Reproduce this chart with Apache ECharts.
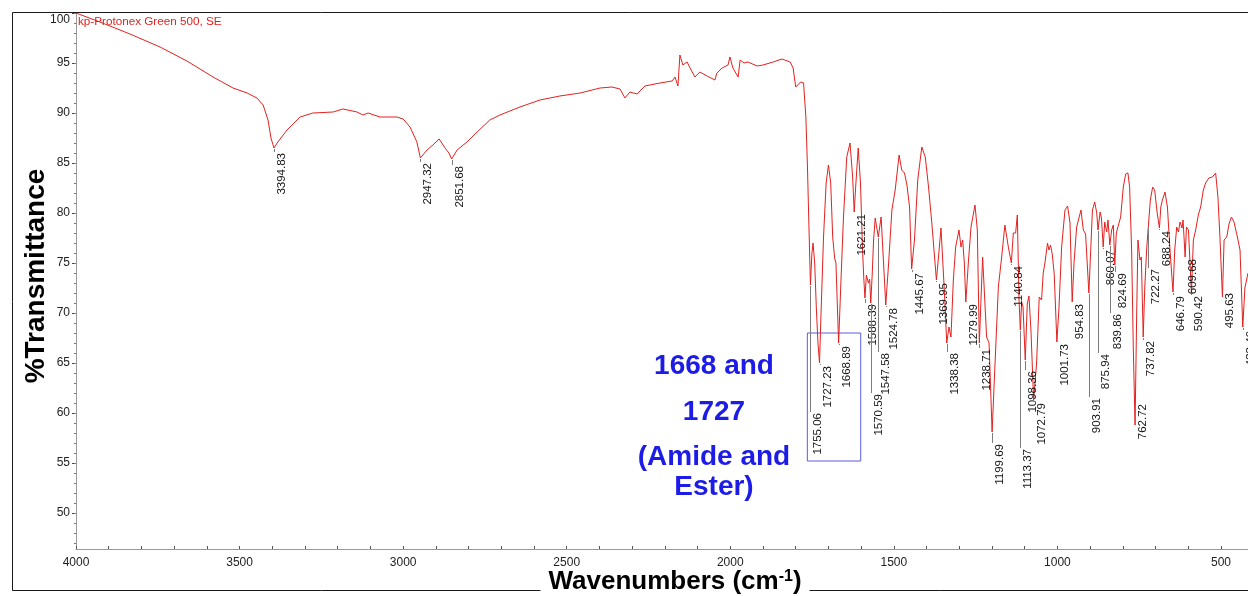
<!DOCTYPE html>
<html>
<head>
<meta charset="utf-8">
<title>FT-IR spectrum</title>
<script src="https://cdn.jsdelivr.net/npm/echarts@6/dist/echarts.min.js"></script>
<style>
  html, body { margin: 0; padding: 0; background: #ffffff; }
  #chart { width: 1248px; height: 596px; }
</style>
</head>
<body>
<div id="chart"></div>
<script>
// Sample name shown in the plot corner
const seriesName = 'kp-Protonex Green 500, SE';

// Spectrum: [wavenumber (cm-1), %T]
const spectrum = [
  [4000, 100.0], [3927, 99.1], [3835, 97.9], [3743, 96.6], [3661, 95.2], [3581, 93.6],
  [3520, 92.5], [3477, 92.0], [3447, 91.5], [3428, 90.8], [3413, 89.3], [3404, 87.5],
  [3394.83, 86.5], [3383, 87.1], [3355, 88.3], [3315, 89.6], [3276, 90.0], [3214, 90.1],
  [3184, 90.4], [3141, 90.1], [3123, 89.8], [3107, 90.0], [3071, 89.6], [3019, 89.6],
  [3000, 89.4], [2979, 88.6], [2958, 87.1], [2947.32, 85.5], [2927, 86.3], [2909, 86.8],
  [2890, 87.4], [2872, 86.5], [2860, 86.0], [2851.68, 85.4], [2835, 86.3], [2805, 87.1],
  [2774, 88.1], [2735, 89.3], [2704, 89.8], [2643, 90.6], [2582, 91.3], [2521, 91.7],
  [2459, 92.0], [2398, 92.5], [2362, 92.6], [2337, 92.4], [2322, 91.5], [2307, 92.1],
  [2285, 91.9], [2261, 92.7], [2215, 93.0], [2178, 93.2], [2169, 93.6], [2160, 92.7],
  [2154, 95.8], [2145, 94.8], [2132, 95.1], [2123, 94.5], [2108, 93.6], [2093, 94.1],
  [2071, 93.7], [2047, 93.3], [2041, 94.0], [2025, 94.5], [2007, 94.8], [2001, 95.6],
  [1992, 94.5], [1976, 93.6], [1970, 95.3], [1958, 95.0], [1946, 95.1], [1918, 94.7],
  [1900, 94.8], [1869, 95.1], [1842, 95.4], [1817, 95.1], [1808, 94.5], [1800, 92.6],
  [1785, 93.1], [1776, 93.0], [1769, 89.6], [1764, 84.5], [1759.5, 78.5], [1755.06, 72.8],
  [1750.5, 76.0], [1747, 77.0], [1742, 75.0], [1737, 70.5], [1732, 67.0], [1727.23, 65.0],
  [1723, 69.6], [1715, 77.6], [1707, 83.0], [1700, 84.8], [1693, 83.0], [1687, 77.6],
  [1681, 75.5], [1677, 75.0], [1673, 71.0], [1668.89, 67.0], [1662, 73.0], [1654, 79.6],
  [1644, 85.6], [1634, 87.0], [1626, 83.6], [1621.21, 80.1], [1616, 83.0], [1609, 86.5],
  [1602, 83.0], [1596, 76.5], [1592, 73.5], [1588.39, 71.5], [1584, 73.8], [1578, 73.0],
  [1574, 73.4], [1570.59, 71.0], [1566, 74.0], [1562, 77.3], [1557, 79.5], [1547.58, 77.6],
  [1539, 79.6], [1531.5, 75.0], [1524.78, 70.8], [1516, 75.0], [1506, 80.3], [1496, 82.3],
  [1484, 85.8], [1476, 84.3], [1467.5, 84.0], [1460, 82.8], [1452, 80.6], [1445.67, 74.4],
  [1437, 77.3], [1427, 83.3], [1414.6, 86.6], [1404, 85.6], [1394, 82.6], [1384, 79.0],
  [1369.95, 73.3], [1363.6, 75.6], [1355.9, 78.5], [1345.8, 72.3], [1338.38, 67.0],
  [1331.5, 68.6], [1325.4, 67.6], [1318.2, 73.3], [1311.1, 76.6], [1300.9, 78.3],
  [1294.8, 76.6], [1289.7, 77.3], [1284.6, 75.0], [1279.99, 71.1], [1272.4, 75.0],
  [1264.2, 78.6], [1252, 80.8], [1244.9, 78.3], [1238.71, 67.0], [1228.7, 75.6],
  [1216.5, 67.6], [1209.1, 67.0], [1199.69, 58.1], [1190.7, 65.0], [1180.6, 72.6],
  [1170.5, 75.6], [1160.6, 78.8], [1150.1, 76.6], [1140.84, 75.0], [1134.9, 78.0],
  [1127.8, 78.0], [1122.6, 79.8], [1117.4, 71.3], [1113.37, 68.3], [1109.4, 71.1],
  [1105.2, 70.6], [1098.36, 65.3], [1092.2, 70.9], [1087.1, 71.7], [1081, 68.3],
  [1072.79, 61.3], [1063.7, 65.0], [1055.6, 71.6], [1048.6, 71.3], [1043.4, 74.0],
  [1038.3, 75.0], [1030.3, 77.0], [1026, 76.3], [1021.1, 76.8], [1015.9, 75.9],
  [1009.8, 73.9], [1001.73, 67.1], [995.2, 70.6], [987.2, 76.6], [976.9, 80.3],
  [968.9, 80.7], [961.6, 79.0], [954.83, 71.1], [949.3, 75.0], [941.3, 78.6], [928, 80.3],
  [920.9, 78.3], [913.9, 77.9], [903.91, 72.0], [893, 80.3], [886, 81.1], [879.9, 80.0],
  [875.94, 78.3], [869.6, 80.1], [865.5, 79.5], [860.07, 76.6], [855.5, 79.1], [849.4, 78.1],
  [845.4, 79.3], [839.86, 76.8], [834.3, 78.3], [829.1, 78.8], [824.69, 74.8], [820, 78.0],
  [815.1, 78.6], [806.8, 79.6], [798.6, 82.6], [791.5, 83.9], [784.5, 84.0], [779.3, 82.6],
  [773.2, 76.3], [768, 66.3], [762.72, 58.8], [757.9, 69.6], [753.9, 77.3], [747.8, 75.3],
  [743.6, 75.6], [737.82, 67.6], [733, 72.6], [727, 76.5], [722.27, 78.6], [716, 81.3],
  [708.9, 82.6], [702.8, 82.3], [695, 80.0], [688.24, 78.5], [684, 80.6], [679.1, 81.3],
  [671.2, 82.1], [663.8, 80.6], [655.9, 76.3], [646.79, 72.1], [641.5, 76.3], [635.4, 78.6],
  [630.2, 78.1], [625.2, 79.1], [619.1, 78.5], [616, 79.3], [609.68, 75.6], [605.6, 78.6],
  [599.5, 78.3], [590.42, 72.0], [584.5, 77.3], [577.5, 78.3], [569.3, 79.8], [562.2, 80.6],
  [554, 82.3], [547, 83.0], [536.9, 83.5], [526.6, 83.6], [516.4, 84.0], [509.4, 81.6],
  [503.3, 77.6], [495.63, 71.6], [490.6, 77.3], [482.5, 77.6], [475.5, 78.9], [468.2, 79.6],
  [460.2, 79.1], [449.9, 77.6], [441.9, 76.3], [433.46, 68.6], [427, 72.5], [417.5, 74.0]
];

// Picked peaks (cm-1) and the %T level at which each tag's text starts
const peakWavenumbers = [
  3394.83, 2947.32, 2851.68, 1755.06, 1727.23, 1668.89, 1621.21, 1588.39, 1570.59,
  1547.58, 1524.78, 1445.67, 1369.95, 1338.38, 1279.99, 1238.71, 1199.69, 1140.84,
  1113.37, 1098.36, 1072.79, 1001.73, 954.83, 903.91, 875.94, 860.07, 839.86, 824.69,
  762.72, 737.82, 722.27, 688.24, 646.79, 609.68, 590.42, 495.63, 433.46
];
const peakTagLevels = [
  86.1, 85.1, 84.8, 60.1, 64.8, 66.8, 80.0, 71.0, 62.0,
  66.1, 70.6, 74.1, 73.1, 66.1, 71.0, 66.5, 57.0, 74.8,
  56.5, 64.3, 61.1, 67.0, 71.0, 61.6, 66.0, 76.4, 70.0, 74.1,
  61.0, 67.3, 74.5, 78.3, 71.8, 75.5, 71.8, 72.1, 68.3
];

// Boxed region around the carbonyl bands: [[cm-1, %T], [cm-1, %T]]
const carbonylBox = [[1764.5, 68.0], [1601.3, 55.2]];
const noteLines = ['1668 and', '1727', '(Amide and', 'Ester)'];

// Axis ranges and ticks
const xRange = [417.5, 4000];
const yRange = [46.4, 100];
const xTickLabels = [4000, 3500, 3000, 2500, 2000, 1500, 1000, 500];
const xTickMarks = [];
for (let v = 4000; v >= 500; v -= 100) xTickMarks.push(v);
const yTickLabels = [50, 55, 60, 65, 70, 75, 80, 85, 90, 95, 100];
const yMinorTicks = [];
for (let v = 47; v <= 100; v++) yMinorTicks.push(v);

const FONT = '"Liberation Sans", Arial, Helvetica, sans-serif';

// %T of each picked peak, taken from the spectrum itself
const peakData = peakWavenumbers.map((w, i) => {
  const hit = spectrum.find(p => p[0] === w);
  return [w, hit ? hit[1] : NaN, peakTagLevels[i]];
});

const chart = echarts.init(document.getElementById('chart'), null, { renderer: 'canvas' });

chart.setOption({
  animation: false,
  backgroundColor: '#ffffff',
  grid: { left: 76, right: 0, top: 13, bottom: 47, containLabel: false, outerBoundsMode: 'none' },
  xAxis: {
    type: 'value',
    inverse: true,
    min: xRange[0],
    max: xRange[1],
    axisLine: { onZero: false, lineStyle: { color: '#9a9a9a', width: 1 } },
    axisTick: { show: true, inside: true, length: 3, customValues: xTickMarks, lineStyle: { color: '#555' } },
    axisLabel: {
      customValues: xTickLabels, color: '#222', fontSize: 12, fontFamily: FONT, margin: 8,
      formatter: v => String(v)
    },
    splitLine: { show: false }
  },
  yAxis: [
    {
      type: 'value',
      min: yRange[0],
      max: yRange[1],
      axisLine: { show: true, onZero: false, lineStyle: { color: '#9a9a9a', width: 1 } },
      axisTick: { show: true, length: 4, customValues: yTickLabels, lineStyle: { color: '#444' } },
      axisLabel: {
        customValues: yTickLabels, color: '#222', fontSize: 12, fontFamily: FONT, margin: 6,
        formatter: v => (v === 100 ? '{t|100}' : String(v)),
        rich: { t: { fontSize: 12, fontFamily: FONT, color: '#222', padding: [14, 0, 0, 0] } }
      },
      splitLine: { show: false }
    },
    {
      type: 'value',
      position: 'left',
      min: yRange[0],
      max: yRange[1],
      axisLine: { show: false },
      axisTick: { show: true, length: 2, customValues: yMinorTicks, lineStyle: { color: '#777' } },
      axisLabel: { show: false },
      splitLine: { show: false }
    }
  ],
  series: [
    {
      name: seriesName,
      type: 'line',
      data: spectrum,
      showSymbol: false,
      symbol: 'none',
      smooth: false,
      clip: true,
      lineStyle: { color: '#e3211f', width: 1 },
      emphasis: { disabled: true },
      markArea: {
        silent: true,
        itemStyle: { color: 'rgba(0,0,0,0)', borderColor: '#5a5ae0', borderWidth: 1 },
        data: [[{ coord: carbonylBox[0] }, { coord: carbonylBox[1] }]]
      },
      z: 2
    },
    {
      name: 'peaks',
      type: 'custom',
      data: peakData,
      encode: { x: 0, y: 1 },
      z: 3,
      renderItem(params, api) {
        const i = params.dataIndex;
        const w = api.value(0);
        const top = api.coord([w, api.value(1)]);
        const tag = api.coord([w, api.value(2)]);
        const lx = Math.round(top[0]) + 0.5;
        const children = [];
        if (tag[1] > top[1] + 1.5) {
          children.push({
            type: 'line',
            shape: { x1: lx, y1: top[1] + 1, x2: lx, y2: tag[1] },
            style: { stroke: '#7d7d7d', lineWidth: 1 }
          });
        }
        children.push({
          type: 'text',
          x: lx + 1.5,
          y: tag[1] + 1,
          rotation: Math.PI / 2,
          style: {
            text: peakWavenumbers[i].toFixed(2),
            fill: '#151515',
            fontSize: 11.5,
            fontFamily: FONT,
            align: 'right',
            verticalAlign: 'top'
          }
        });
        return { type: 'group', children };
      }
    }
  ],
  graphic: [
    // outer frame
    {
      type: 'polyline', z: 1, silent: true,
      shape: { points: [[12.5, 590.5], [12.5, 12.5], [1248, 12.5]] },
      style: { stroke: '#1a1a1a', lineWidth: 1, fill: null }
    },
    {
      type: 'line', z: 1, silent: true,
      shape: { x1: 12.5, y1: 590.5, x2: 1248, y2: 590.5 },
      style: { stroke: '#1a1a1a', lineWidth: 1 }
    },
    // sample name
    {
      type: 'text', z: 10, silent: true, x: 78, y: 22,
      style: { text: seriesName, fill: '#e3211f', fontSize: 11.7, fontFamily: FONT, align: 'left', verticalAlign: 'middle' }
    },
    // y axis title
    {
      type: 'text', z: 20, silent: true, x: 36, y: 276, rotation: Math.PI / 2,
      style: {
        text: '%Transmittance', fill: '#000', fontSize: 28, fontWeight: 'bold', fontFamily: FONT,
        align: 'center', verticalAlign: 'middle', backgroundColor: '#fff', padding: [12, 6, 0, 6]
      }
    },
    // x axis title
    {
      type: 'text', z: 20, silent: true, x: 675, y: 582,
      style: {
        text: '{a|Wavenumbers (cm}{b|-1}{a|)}',
        align: 'center', verticalAlign: 'middle', backgroundColor: '#fff', padding: [2, 8, 2, 8],
        rich: {
          a: { fontSize: 26, fontWeight: 'bold', fontFamily: FONT, fill: '#000' },
          b: { fontSize: 16, fontWeight: 'bold', fontFamily: FONT, fill: '#000', verticalAlign: 'top' }
        }
      }
    },
    // band assignment note
    { type: 'text', z: 10, silent: true, x: 714, y: 366,
      style: { text: noteLines[0], fill: '#1c1ce6', fontSize: 28, fontWeight: 'bold', fontFamily: FONT, align: 'center', verticalAlign: 'middle' } },
    { type: 'text', z: 10, silent: true, x: 714, y: 412,
      style: { text: noteLines[1], fill: '#1c1ce6', fontSize: 28, fontWeight: 'bold', fontFamily: FONT, align: 'center', verticalAlign: 'middle' } },
    { type: 'text', z: 10, silent: true, x: 714, y: 457,
      style: { text: noteLines[2], fill: '#1c1ce6', fontSize: 28, fontWeight: 'bold', fontFamily: FONT, align: 'center', verticalAlign: 'middle' } },
    { type: 'text', z: 10, silent: true, x: 714, y: 487,
      style: { text: noteLines[3], fill: '#1c1ce6', fontSize: 28, fontWeight: 'bold', fontFamily: FONT, align: 'center', verticalAlign: 'middle' } }
  ]
});
</script>
</body>
</html>
